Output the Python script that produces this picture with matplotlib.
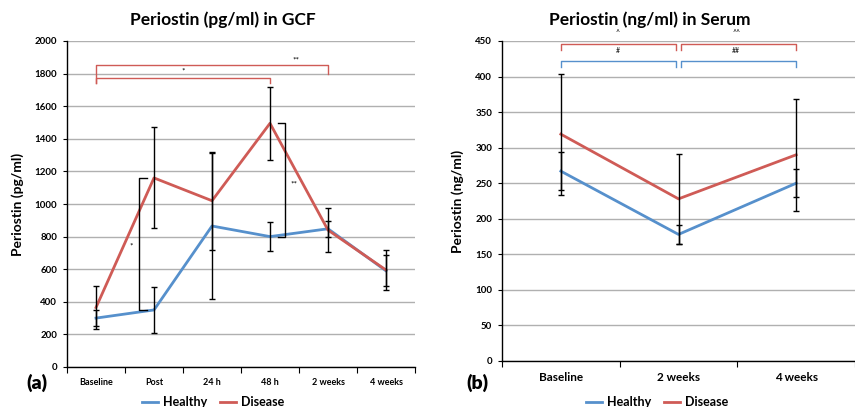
import matplotlib
matplotlib.use("Agg")
import matplotlib.pyplot as plt
import numpy as np

plt.rcParams['font.family'] = ['Lato', 'DejaVu Sans']
plt.rcParams['font.weight'] = 'bold'

BLUE = '#5690CC'
RED = '#CF5B56'

# GCF data (pg/ml)
gcf_cats = ['Baseline', 'Post', '24 h', '48 h', '2 weeks', '4 weeks']
gcf_healthy = [300, 350, 865, 800, 848, 590]
gcf_healthy_err = [50, 140, 450, 90, 50, 95]
gcf_disease = [365, 1160, 1020, 1495, 840, 595]
gcf_disease_err = [130, 310, 300, 225, 135, 125]

# Serum data (ng/ml)
serum_cats = ['Baseline', '2 weeks', '4 weeks']
serum_healthy = [267, 178, 250]
serum_healthy_err = [27, 13, 20]
serum_disease = [319, 228, 290]
serum_disease_err = [85, 63, 79]

# significance brackets: (x0, x1, y, leg0, leg1, colour)
gcf_top_brackets = [(0.5, 4.5, 1850, 1740, 1800, RED),
                    (0.5, 3.5, 1775, 1740, 1740, RED)]
gcf_top_labels = [(2.0, 1815, '*'), (3.95, 1885, '**')]
serum_brackets = [(0.5, 1.48, 446, 437, 437, RED),
                  (1.52, 2.5, 446, 437, 437, RED),
                  (0.5, 1.48, 422, 413, 413, BLUE),
                  (1.52, 2.5, 422, 413, 413, BLUE)]
serum_labels = [(0.98, 462, '^'), (1.99, 462, '^^'),
                (0.98, 436, '#'), (1.99, 436, '##')]


def bracket(ax, x0, x1, y, l0, l1, c):
    ax.plot([x0, x0, x1, x1], [l0, y, y, l1], color=c, lw=1, clip_on=False, zorder=4)


def style(ax, cats, ymax, ystep, tsize, xsize):
    n = len(cats)
    ax.set_xlim(0, n)
    ax.set_ylim(0, ymax)
    ax.set_yticks(np.arange(0, ymax + 1, ystep))
    ax.set_xticks(np.arange(0, n + 1))
    ax.set_xticklabels([])
    ax.set_xticks(np.arange(n) + 0.5, minor=True)
    ax.set_xticklabels(cats, minor=True, fontsize=xsize, fontweight='bold')
    ax.tick_params(axis='x', which='minor', length=0, pad=8)
    ax.tick_params(axis='x', which='major', length=4, direction='out')
    ax.tick_params(axis='y', labelsize=tsize, length=3, pad=4)
    for lbl in ax.get_yticklabels():
        lbl.set_fontweight('bold')
    ax.grid(axis='y', color='#b0b0b0', lw=1)
    ax.set_axisbelow(True)
    for s in ['top', 'right']:
        ax.spines[s].set_visible(False)
    ax.spines['left'].set_linewidth(1)
    ax.spines['bottom'].set_linewidth(1)


fig = plt.figure(figsize=(8.55, 4.07), dpi=100)

# ---- (a) GCF
ax1 = fig.add_axes([67 / 855, 40 / 407, 348 / 855, 326 / 407])
x1 = np.arange(len(gcf_cats)) + 0.5
style(ax1, gcf_cats, 2000, 200, 7, 6.5)
ax1.plot(x1, gcf_healthy, color=BLUE, lw=2, label='Healthy', zorder=3)
ax1.plot(x1, gcf_disease, color=RED, lw=2, label='Disease', zorder=3)
ax1.errorbar(x1, gcf_healthy, yerr=gcf_healthy_err, fmt='none', ecolor='black',
             elinewidth=1, capsize=2, zorder=5)
ax1.errorbar(x1, gcf_disease, yerr=gcf_disease_err, fmt='none', ecolor='black',
             elinewidth=1, capsize=2, zorder=5)
for b in gcf_top_brackets:
    bracket(ax1, *b)
for x, y, t in gcf_top_labels:
    ax1.text(x, y, t, fontsize=6, ha='center', va='center', fontweight='normal')
# black brackets between groups
ax1.plot([1.38, 1.24, 1.24, 1.38], [gcf_disease[1], gcf_disease[1], gcf_healthy[1], gcf_healthy[1]],
         color='black', lw=1, zorder=4)
ax1.text(1.1, 740, '*', fontsize=6, ha='center', va='center', fontweight='normal')
ax1.plot([3.63, 3.75, 3.75, 3.63], [gcf_disease[3], gcf_disease[3], gcf_healthy[3], gcf_healthy[3]],
         color='black', lw=1, zorder=4)
ax1.text(3.92, 1120, '**', fontsize=6, ha='center', va='center', fontweight='normal')
ax1.set_ylabel('Periostin (pg/ml)', fontsize=10, fontweight='bold', labelpad=8)
fig.text(223 / 855, 1 - 20 / 407, 'Periostin (pg/ml) in GCF', fontsize=12.5,
         fontweight='bold', ha='center', va='center')
fig.text(37 / 855, 1 - 383 / 407, '(a)', fontsize=14, fontweight='heavy',
         ha='center', va='center')
fig.legend(handles=ax1.get_lines()[:2], labels=['Healthy', 'Disease'],
           loc='center', bbox_to_anchor=(213 / 855, 1 - 402 / 407), ncol=2,
           frameon=False, handlelength=1.3, columnspacing=1.0,
           handletextpad=0.4, prop={'weight': 'bold', 'size': 9})

# ---- (b) Serum
ax2 = fig.add_axes([502 / 855, 46 / 407, 353 / 855, 320 / 407])
x2 = np.arange(len(serum_cats)) + 0.5
style(ax2, serum_cats, 450, 50, 7, 8.5)
ax2.plot(x2, serum_healthy, color=BLUE, lw=2, label='Healthy', zorder=3)
ax2.plot(x2, serum_disease, color=RED, lw=2, label='Disease', zorder=3)
ax2.errorbar(x2, serum_healthy, yerr=serum_healthy_err, fmt='none', ecolor='black',
             elinewidth=1, capsize=2, zorder=5)
ax2.errorbar(x2, serum_disease, yerr=serum_disease_err, fmt='none', ecolor='black',
             elinewidth=1, capsize=2, zorder=5)
for b in serum_brackets:
    bracket(ax2, *b)
for x, y, t in serum_labels:
    ax2.text(x, y, t, fontsize=5, ha='center', va='center', fontweight='normal',
             clip_on=False)
ax2.set_ylabel('Periostin (ng/ml)', fontsize=10, fontweight='bold', labelpad=8)
fig.text(650 / 855, 1 - 20 / 407, 'Periostin (ng/ml) in Serum', fontsize=12.5,
         fontweight='bold', ha='center', va='center')
fig.text(477 / 855, 1 - 383 / 407, '(b)', fontsize=14, fontweight='heavy',
         ha='center', va='center')
fig.legend(handles=ax2.get_lines()[:2], labels=['Healthy', 'Disease'],
           loc='center', bbox_to_anchor=(657 / 855, 1 - 402 / 407), ncol=2,
           frameon=False, handlelength=1.3, columnspacing=1.0,
           handletextpad=0.4, prop={'weight': 'bold', 'size': 9})

fig.savefig('out.png', dpi=100)
